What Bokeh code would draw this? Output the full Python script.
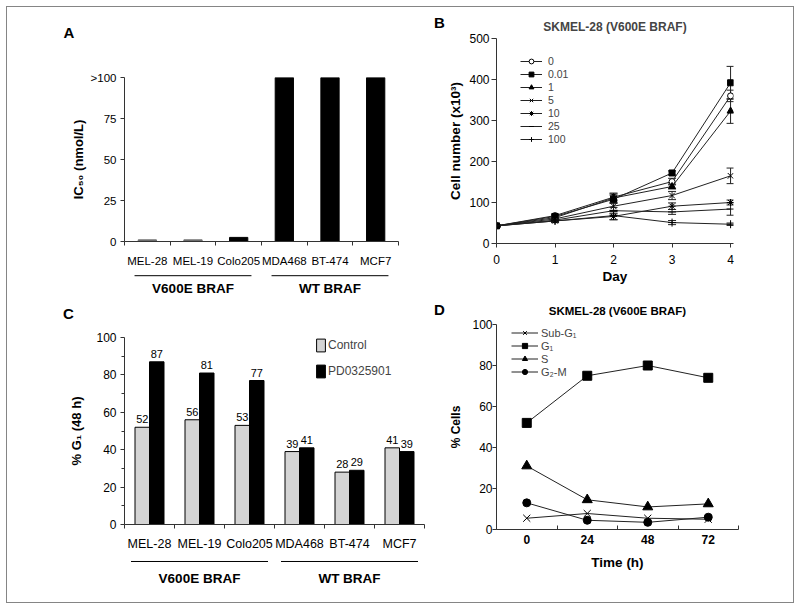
import numpy as np
from bokeh.plotting import figure
from bokeh.models import (Range1d, FixedTicker, Legend, LegendItem,
                          Whisker, TeeHead, ColumnDataSource)
from bokeh.layouts import row, column
from bokeh.core.properties import value
from bokeh.embed import file_html
from bokeh.resources import INLINE

FONT = "Liberation Sans"
AXIS = "#333333"

# ---------------- Panel A data ----------------
a_cell_lines = ["MEL-28", "MEL-19", "Colo205", "MDA468", "BT-474", "MCF7"]
a_ic50 = [1.0, 1.0, 2.5, 100, 100, 100]
a_bar_colors = ["#6e6e6e", "#6e6e6e", "black", "black", "black", "black"]
a_yticks = [0, 25, 50, 75, 100]
a_ytick_labels = ["0", "25", "50", "75", ">100"]

groups = ["V600E BRAF", "WT BRAF"]
group_first = [0, 3]
group_count = [3, 3]

# ---------------- Panel B data ----------------
b_days = [0, 1, 2, 3, 4]
b_doses = ["0", "0.01", "1", "5", "10", "25", "100"]
b_dose_0 = [43, 68, 113, 151, 360]
b_dose_001 = [43, 66, 108, 172, 392]
b_dose_1 = [43, 63, 111, 139, 323]
b_dose_5 = [43, 60, 91, 117, 165]
b_dose_10 = [43, 55, 66, 91, 100]
b_dose_25 = [43, 57, 80, 77, 84]
b_dose_100 = [43, 55, 68, 51, 47]
b_err_0 = [2, 4, 8, 8, 14]
b_err_001 = [2, 4, 10, 5, 40]
b_err_1 = [2, 4, 12, 6, 30]
b_err_5 = [2, 4, 10, 10, 19]
b_err_10 = [2, 4, 8, 8, 6]
b_err_25 = [2, 4, 8, 6, 15]
b_err_100 = [2, 4, 10, 5, 3]
b_yticks = [0, 100, 200, 300, 400, 500]

# ---------------- Panel C data ----------------
c_cell_lines = ["MEL-28", "MEL-19", "Colo205", "MDA468", "BT-474", "MCF7"]
c_series = ["Control", "PD0325901"]
c_control = [52, 56, 53, 39, 28, 41]
c_pd0325901 = [87, 81, 77, 41, 29, 39]
c_yticks = [0, 20, 40, 60, 80, 100]

# ---------------- Panel D data ----------------
d_times = ["0", "24", "48", "72"]
d_phases = ["Sub-G\u2081", "G\u2081", "S", "G\u2082-M"]
d_sub_g1 = [5.5, 7.8, 5.5, 5.0]
d_g1 = [52, 75, 80, 74]
d_s = [31, 14.5, 11, 12.5]
d_g2_m = [13, 4.5, 3.5, 6]
d_yticks = [0, 20, 40, 60, 80, 100]

panel_title = "SKMEL-28 (V600E BRAF)"


def base_fig(width, height, left, right, top, bottom, x_range, y_range, axes=True):
    kw = {}
    if not axes:
        kw = dict(x_axis_location=None, y_axis_location=None)
    p = figure(width=width, height=height, x_range=x_range, y_range=y_range,
               output_backend="svg", toolbar_location=None,
               min_border_left=left, min_border_right=right,
               min_border_top=top, min_border_bottom=bottom, **kw)
    p.outline_line_color = None
    p.grid.grid_line_color = None
    p.background_fill_color = "white"
    p.border_fill_color = "white"
    return p


def axis_style(ax, size, bold=False, label_size="13px"):
    ax.axis_line_color = AXIS
    ax.axis_line_width = 1
    ax.major_tick_line_color = AXIS
    ax.minor_tick_line_color = AXIS
    ax.major_label_text_font = FONT
    ax.major_label_text_font_size = size
    ax.major_label_text_color = "black"
    ax.major_label_text_font_style = "bold" if bold else "normal"
    ax.axis_label_text_font = FONT
    ax.axis_label_text_font_style = "bold"
    ax.axis_label_text_font_size = label_size
    ax.axis_label_text_color = "black"


def category_axis(ax, labels, centers, bounds, tick_in, tick_out, standoff):
    ax.ticker = FixedTicker(ticks=[float(c) for c in centers],
                            minor_ticks=[float(b) for b in bounds])
    ax.major_label_overrides = {float(c): l for c, l in zip(centers, labels)}
    ax.major_tick_in = 0
    ax.major_tick_out = 0
    ax.minor_tick_in = tick_in
    ax.minor_tick_out = tick_out
    ax.major_label_standoff = standoff


def value_axis(ax, ticks, tick_out, standoff, labels=None, minor=None):
    ax.ticker = FixedTicker(ticks=ticks, minor_ticks=minor or [])
    if labels is not None:
        ax.major_label_overrides = {float(t): l for t, l in zip(ticks, labels)}
    ax.major_tick_in = 0
    ax.major_tick_out = tick_out
    ax.minor_tick_in = 0
    ax.minor_tick_out = 3
    ax.major_label_standoff = standoff


def header_fig(width, height, xs, ys, letters):
    # strip above the panels that carries the panel letters
    h = base_fig(width, height, 0, 0, 0, 0, Range1d(0, width), Range1d(0, height), axes=False)
    h.text(x=xs, y=ys, text=letters, text_font=value(FONT), text_font_style="bold",
           text_font_size="15px", text_align="center", text_baseline="middle",
           text_color="black")
    return h


def group_fig(width, height, left, right, x_range, inset, line_y, text_y, size):
    g = base_fig(width, height, left, right, 0, 0, x_range, Range1d(0, 1), axes=False)
    x0 = [f + inset for f in group_first]
    x1 = [f + n - inset for f, n in zip(group_first, group_count)]
    xc = [f + n / 2 for f, n in zip(group_first, group_count)]
    g.segment(x0=x0, x1=x1, y0=line_y, y1=line_y, line_color="black", line_width=1)
    g.text(x=xc, y=text_y, text=groups, text_font=value(FONT), text_font_style="bold",
           text_font_size=size, text_align="center", text_baseline="middle", text_color="black")
    return g


# ================= top row =================
LEFT_TOP = 438
hTop = header_fig(LEFT_TOP, 38, [61.5, 432], [13, 23], ["A", "B"])

na = len(a_cell_lines)
a_x = np.arange(na) + 0.5
pA = base_fig(LEFT_TOP, 224, 117, 47, 32, 25, Range1d(0, na), Range1d(0, 100))
pA.vbar(x=a_x, top=a_ic50, width=0.4, fill_color=a_bar_colors, line_color=a_bar_colors)
axis_style(pA.xaxis[0], "11.5px")
axis_style(pA.yaxis[0], "11.5px", label_size="13px")
category_axis(pA.xaxis[0], a_cell_lines, a_x, range(na + 1), 0, 4, 9)
value_axis(pA.yaxis[0], a_yticks, 4, 4, labels=a_ytick_labels)
pA.yaxis[0].axis_label = "IC\u2085\u2080 (nmol/L)"
pA.yaxis[0].axis_label_standoff = 2
gA = group_fig(LEFT_TOP, 31, 117, 47, pA.x_range, 0.22, 0.8, 0.39, "13.5px")

pB = base_fig(786 - LEFT_TOP, 293, 51, 60, 31, 57, Range1d(0, 4.05), Range1d(0, 500))
axis_style(pB.xaxis[0], "12px", label_size="13.5px")
axis_style(pB.yaxis[0], "12px", label_size="13.5px")
value_axis(pB.xaxis[0], b_days, 4, 7)
value_axis(pB.yaxis[0], b_yticks, 5, 2)
pB.xaxis[0].axis_label = "Day"
pB.xaxis[0].axis_label_standoff = 2
pB.yaxis[0].axis_label = "Cell number (x10\u00b3)"
pB.yaxis[0].axis_label_standoff = 3
pB.title.text = panel_title
pB.title.align = "center"
pB.title.text_font = FONT
pB.title.text_font_size = "12px"
pB.title.text_font_style = "bold"
pB.title.standoff = 9

b_values = [b_dose_0, b_dose_001, b_dose_1, b_dose_5, b_dose_10, b_dose_25, b_dose_100]
b_errors = [b_err_0, b_err_001, b_err_1, b_err_5, b_err_10, b_err_25, b_err_100]
b_markers = ["circle", "square", "triangle", "x", "asterisk", "dash", "cross"]
b_fill = ["white", "black", "black", None, None, None, None]
b_size = [6, 6, 7, 8, 7, 8, 8]
b_items = []
for dose, vals, errs, mk, fc, sz in zip(b_doses, b_values, b_errors, b_markers, b_fill, b_size):
    src = ColumnDataSource(dict(day=b_days, v=vals,
                                upper=[v + e for v, e in zip(vals, errs)],
                                lower=[v - e for v, e in zip(vals, errs)]))
    pB.add_layout(Whisker(base="day", upper="upper", lower="lower", source=src,
                          line_color="#222222", line_width=1,
                          upper_head=TeeHead(size=8, line_color="#222222"),
                          lower_head=TeeHead(size=8, line_color="#222222")))
    lr = pB.line("day", "v", source=src, line_color="#222222", line_width=1)
    sr = pB.scatter("day", "v", source=src, marker=mk, size=sz, line_color="black",
                    fill_color=fc if fc else "black", line_width=1)
    b_items.append(LegendItem(label=dose, renderers=[lr, sr]))
legB = Legend(items=b_items, location=(24, 98))
legB.background_fill_alpha = 0
legB.border_line_color = None
legB.padding = 0
legB.margin = 0
legB.spacing = 1
legB.glyph_width = 22
legB.glyph_height = 12
legB.label_height = 12
legB.label_standoff = 6
legB.label_text_font = FONT
legB.label_text_font_size = "10.5px"
pB.add_layout(legB)

# ================= bottom row =================
LEFT_BOT = 439
hBot = header_fig(LEFT_BOT, 22, [61, 432], [9, 13], ["C", "D"])

nc = len(c_cell_lines)
c_x = np.arange(nc) + 0.5
pC = base_fig(LEFT_BOT, 231, 117, 22, 15, 24, Range1d(0, nc), Range1d(0, 100))
rc1 = pC.vbar(x=c_x - 0.145, top=c_control, width=0.29, fill_color="#d4d4d4", line_color="black", line_width=1)
rc2 = pC.vbar(x=c_x + 0.145, top=c_pd0325901, width=0.29, fill_color="black", line_color="black", line_width=1)
for xs, vals in ((c_x - 0.145, c_control), (c_x + 0.145, c_pd0325901)):
    pC.text(x=xs, y=vals, text=[str(v) for v in vals], y_offset=-4,
            text_font=value(FONT), text_font_size="11px", text_align="center",
            text_baseline="bottom", text_color="black")
axis_style(pC.xaxis[0], "12.5px")
axis_style(pC.yaxis[0], "12px", label_size="13px")
category_axis(pC.xaxis[0], c_cell_lines, c_x, range(nc + 1), 0, 4, 8)
value_axis(pC.yaxis[0], c_yticks, 4, 4, minor=[10, 30, 50, 70, 90])
pC.yaxis[0].axis_label = "% G\u2081 (48 h)"
pC.yaxis[0].axis_label_standoff = 9
legC = Legend(items=[LegendItem(label=c_series[0], renderers=[rc1]),
                     LegendItem(label=c_series[1], renderers=[rc2])], location=(191, 145))
legC.background_fill_alpha = 0
legC.border_line_color = None
legC.padding = 0
legC.margin = 0
legC.spacing = 10
legC.glyph_width = 11
legC.glyph_height = 16
legC.label_height = 16
legC.label_standoff = 2
legC.label_text_font = FONT
legC.label_text_font_size = "12px"
pC.add_layout(legC)
gC = group_fig(LEFT_BOT, 49, 117, 22, pC.x_range, 0.13, 0.837, 0.484, "13.5px")

nd = len(d_times)
d_x = np.arange(nd)
D_W = 786 - LEFT_BOT
pD = base_fig(D_W, 285, 49, 55, 7, 73, Range1d(-0.5, nd - 0.5), Range1d(0, 100))
axis_style(pD.xaxis[0], "12px", bold=True, label_size="13.5px")
axis_style(pD.yaxis[0], "12px", label_size="12px")
category_axis(pD.xaxis[0], d_times, d_x, np.arange(nd + 1) - 0.5, 4, 0, 5)
value_axis(pD.yaxis[0], d_yticks, 4, 0)
pD.xaxis[0].axis_label = "Time (h)"
pD.xaxis[0].axis_label_standoff = 8
pD.yaxis[0].axis_label = "% Cells"
pD.yaxis[0].axis_label_standoff = 6

# title strip of panel D, sharing the panel's x scale
hD = base_fig(D_W, 17, 49, 55, 0, 0, pD.x_range, Range1d(0, 17), axes=False)
hD.text(x=[(nd - 1) / 2], y=[7], text=[panel_title], text_font=value(FONT),
        text_font_style="bold", text_font_size="11.5px", text_align="center",
        text_baseline="middle", text_color="black")

d_values = [d_sub_g1, d_g1, d_s, d_g2_m]
d_markers = ["x", "square", "triangle", "circle"]
d_size = [10, 9, 10, 8]
d_items = []
for name, vals, mk, sz in zip(d_phases, d_values, d_markers, d_size):
    lr = pD.line(d_x, vals, line_color="#222222", line_width=1)
    sr = pD.scatter(d_x, vals, marker=mk, size=sz, line_color="black", fill_color="black", line_width=1)
    d_items.append(LegendItem(label=name, renderers=[lr, sr]))
legD = Legend(items=d_items, location=(15, 151))
legD.background_fill_alpha = 0
legD.border_line_color = None
legD.padding = 0
legD.margin = 0
legD.spacing = 0
legD.glyph_width = 27
legD.glyph_height = 13
legD.label_height = 13
legD.label_standoff = 3
legD.label_text_font = FONT
legD.label_text_font_size = "11px"
pD.add_layout(legD)

layout = column(
    row(column(row(hTop), pA, gA), pB),
    row(column(row(hBot), pC, gC), column(hD, pD)),
    styles={"border": "1px solid #858585"},
    margin=(6, 0, 0, 6),
)

open("out.html", "w").write(file_html(layout, INLINE))
